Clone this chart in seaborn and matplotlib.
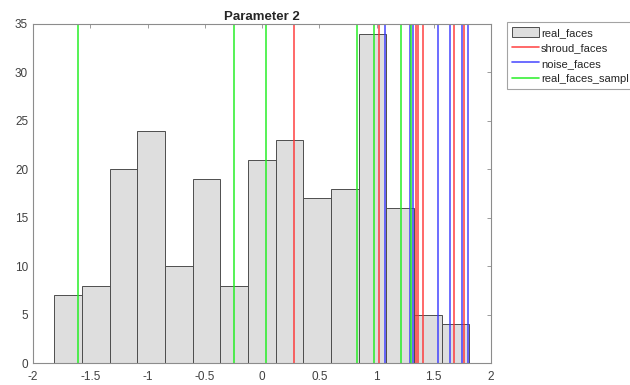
import numpy as np
import pandas as pd
import matplotlib
matplotlib.use("Agg")
import matplotlib.pyplot as plt
import seaborn as sns

# Histogram of real_faces (bin edges and counts)
bin_start = -1.814
bin_width = 0.2416
counts = [7, 8, 20, 24, 10, 19, 8, 21, 23, 17, 18, 34, 16, 5, 4]

# Vertical marker lines
shroud_faces = [0.277, 1.025, 1.345, 1.365, 1.41, 1.680, 1.76]
noise_faces = [1.074, 1.29, 1.315, 1.534, 1.642, 1.75, 1.799]
real_faces_sample = [-1.604, -0.247, 0.038, 0.827, 0.978, 1.217, 1.305]

labels = ["real_faces", "shroud_faces", "noise_faces", "real_faces_sampl"]
xticks = [-2, -1.5, -1, -0.5, 0, 0.5, 1, 1.5, 2]
xticklabels = ["-2", "-1.5", "-1", "-0.5", "0", "0.5", "1", "1.5", "2"]
yticks = [0, 5, 10, 15, 20, 25, 30, 35]

sns.set_style("white")
plt.rcParams['font.family'] = ['Liberation Sans', 'DejaVu Sans']

edges = [bin_start + bin_width * i for i in range(len(counts) + 1)]
centers = [(edges[i] + edges[i + 1]) / 2 for i in range(len(counts))]
df = pd.DataFrame({"x": centers, "w": counts})

fig = plt.figure(figsize=(6.3, 3.85), dpi=100)
ax = fig.add_axes([33 / 630, 1 - 363 / 385, (491 - 33) / 630, (363 - 24) / 385])

sns.histplot(data=df, x="x", weights="w", bins=edges, ax=ax,
             color="#dedede", edgecolor="#4d4d4d", linewidth=0.7, alpha=1,
             label=labels[0])

lw = 1.2
for i, v in enumerate(shroud_faces):
    ax.axvline(v, color="#ff3030", lw=lw, alpha=0.85,
               label=labels[1] if i == 0 else None)
for i, v in enumerate(noise_faces):
    ax.axvline(v, color="#3535ff", lw=lw, alpha=0.85,
               label=labels[2] if i == 0 else None)
for i, v in enumerate(real_faces_sample):
    ax.axvline(v, color="#22ee22", lw=lw, alpha=0.9,
               label=labels[3] if i == 0 else None)

ax.set_xlim(-2, 2)
ax.set_ylim(0, 35)
ax.set_xticks(xticks)
ax.set_xticklabels(xticklabels)
ax.set_yticks(yticks)
ax.set_xlabel("")
ax.set_ylabel("")
ax.set_title("Parameter 2", fontsize=9.5, fontweight="bold", pad=3)

for s in ax.spines.values():
    s.set_visible(True)
    s.set_color("#8c8c8c")
    s.set_linewidth(0.8)
ax.tick_params(axis="both", direction="in", length=3, width=0.6,
               colors="#8c8c8c", labelcolor="#404040", labelsize=8.5,
               top=True, right=True)
ax.tick_params(axis="x", pad=6)

handles, labs = ax.get_legend_handles_labels()
order = [labs.index(l) for l in labels]
leg = ax.legend([handles[i] for i in order], [labs[i] for i in order],
                loc="upper left", bbox_to_anchor=(507 / 630, 1 - 22 / 385),
                bbox_transform=fig.transFigure, fontsize=8, frameon=True,
                fancybox=False, edgecolor="#8c8c8c", handlelength=2.4,
                handleheight=1.0, handletextpad=0.2, borderpad=0.45,
                labelspacing=0.42, borderaxespad=0)
leg.get_frame().set_linewidth(0.8)

fig.savefig("out.png", dpi=100)
